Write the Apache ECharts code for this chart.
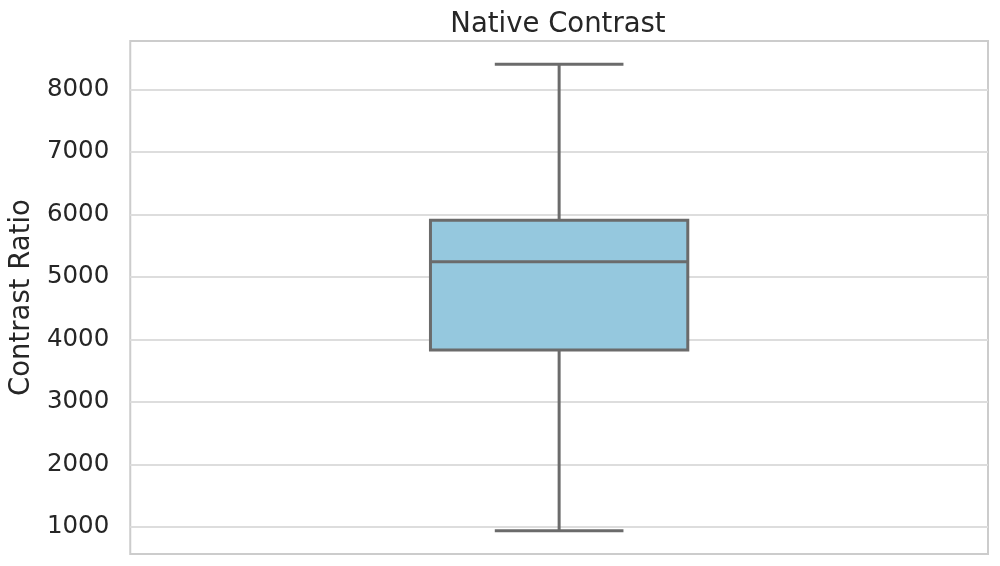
<!DOCTYPE html>
<html><head><meta charset="utf-8">
<script src="https://cdn.jsdelivr.net/npm/echarts@6/dist/echarts.min.js"></script>
<style>html,body{margin:0;padding:0;background:#fff}#c{width:1000px;height:566px}</style>
</head><body><div id="c"></div>
<script>
var categories = ['Native Contrast'];
var whiskerLow = [940];
var q1 = [3830];
var median = [5240];
var q3 = [5905];
var whiskerHigh = [8400];
var yTicks = [1000, 2000, 3000, 4000, 5000, 6000, 7000, 8000];

var data = categories.map(function(c, i){ return [i, whiskerLow[i], q1[i], median[i], q3[i], whiskerHigh[i]]; });
var chart = echarts.init(document.getElementById('c'));
var lineCol = '#6b6b6b';
chart.setOption({
  animation: false,
  title: { text: 'Native Contrast', left: 553, top: 6, textAlign: 'center',
    textStyle: { fontFamily: 'DejaVu Sans', fontSize: 27.5, fontWeight: 'normal', color: '#262626' } },
  grid: { left: 128, right: 12, top: 41, bottom: 12, show: true, borderColor: '#cccccc', borderWidth: 2 },
  xAxis: { type: 'category', data: categories, axisLine: { show: false }, axisTick: { show: false }, axisLabel: { show: false }, splitLine: { show: false } },
  yAxis: { type: 'value', min: 567, max: 8773,
    name: 'Contrast Ratio', nameLocation: 'middle', nameGap: 91, nameRotate: 90,
    nameTextStyle: { fontFamily: 'DejaVu Sans', fontSize: 27.5, color: '#262626' },
    axisLine: { show: false }, axisTick: { show: false, customValues: yTicks },
    axisLabel: { fontFamily: 'DejaVu Sans', fontSize: 24.5, color: '#262626', margin: 21,
      customValues: yTicks, formatter: function(v){ return String(v); } },
    splitLine: { lineStyle: { color: '#dddddd', width: 2 } }
  },
  series: [{
    type: 'custom',
    data: data,
    renderItem: function(params, api) {
      var x = api.value(0);
      var bw = api.size([1, 0])[0] * 0.3;
      var cx = api.coord([x, api.value(3)])[0];
      var yLo = api.coord([x, api.value(1)])[1];
      var yQ1 = api.coord([x, api.value(2)])[1];
      var yMed = api.coord([x, api.value(3)])[1];
      var yQ3 = api.coord([x, api.value(4)])[1];
      var yHi = api.coord([x, api.value(5)])[1];
      var st = { stroke: lineCol, lineWidth: 3, fill: null };
      return { type: 'group', children: [
        { type: 'line', shape: { x1: cx, y1: yHi, x2: cx, y2: yQ3 }, style: st },
        { type: 'line', shape: { x1: cx, y1: yQ1, x2: cx, y2: yLo }, style: st },
        { type: 'line', shape: { x1: cx - bw/4, y1: yHi, x2: cx + bw/4, y2: yHi }, style: st },
        { type: 'line', shape: { x1: cx - bw/4, y1: yLo, x2: cx + bw/4, y2: yLo }, style: st },
        { type: 'rect', shape: { x: cx - bw/2, y: yQ3, width: bw, height: yQ1 - yQ3 }, style: { fill: '#95c8de', stroke: lineCol, lineWidth: 3 } },
        { type: 'line', shape: { x1: cx - bw/2, y1: yMed, x2: cx + bw/2, y2: yMed }, style: st }
      ]};
    }
  }]
});
</script></body></html>
